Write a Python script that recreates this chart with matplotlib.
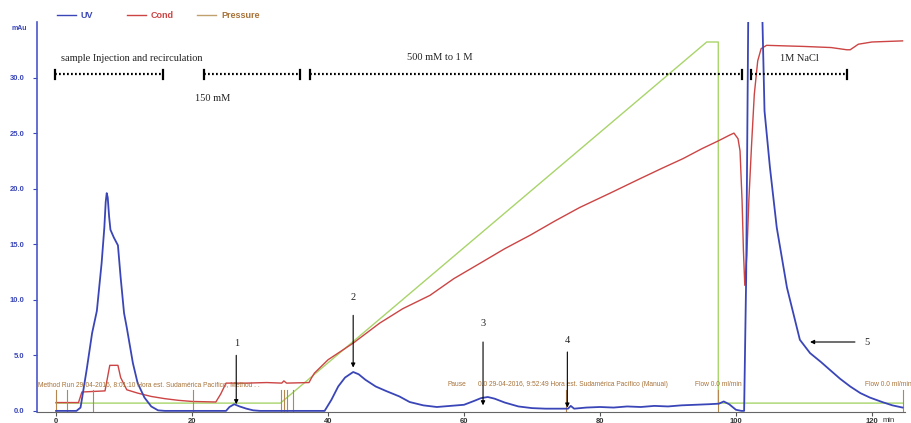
import numpy as np
import matplotlib.pyplot as plt

# UV absorbance trace (mAu)
uv_time = [0, 3.0, 3.6, 4.5, 5.3, 6.0, 6.7, 7.1, 7.3, 7.45, 7.6, 7.8, 8.0, 8.5, 9.1, 9.5, 10.0,
           10.4, 11.3, 12.0, 13.0, 14.0, 15.0, 16.0, 25.0, 25.5, 26.2, 27.0, 28.0,
           29.0, 30.0, 39.5, 40.5, 41.5, 42.5, 43.7, 44.5, 45.5, 47.0, 48.5, 50.5,
           52.0, 54.0, 56.0, 58.0, 60.0, 61.5, 62.5, 63.5, 64.5, 66.0, 68.0, 70.0,
           72.0, 74.0, 75.3, 75.7, 76.2, 78.0, 80.0, 82.0, 84.0, 86.0, 88.0, 90.0,
           92.0, 94.0, 96.0, 97.5, 98.2, 99.0, 100.0, 100.8, 101.2, 101.5, 101.8,
           102.2, 103.5, 103.9, 104.2, 105.0, 106.0, 107.5, 109.4, 110.9, 112.5,
           113.8, 115.3, 116.8, 118.3, 119.7, 121.5, 123.0, 124.5]
uv_value = [0, 0, 0.3, 3.7, 7.0, 9.0, 13.3, 16.5, 18.8, 19.6, 19.2, 17.5, 16.3, 15.6, 14.9, 12.0, 8.8,
            7.5, 4.3, 2.5, 1.2, 0.4, 0.05, 0, 0, 0.35, 0.6, 0.4, 0.2,
            0.05, 0, 0, 1.0, 2.2, 3.0, 3.5, 3.3, 2.8, 2.2, 1.8, 1.3,
            0.8, 0.5, 0.35, 0.45, 0.55, 0.9, 1.15, 1.25, 1.1, 0.75, 0.4, 0.25,
            0.2, 0.2, 0.2, 0.45, 0.2, 0.3, 0.35, 0.3, 0.4, 0.35, 0.45, 0.4,
            0.5, 0.55, 0.6, 0.65, 0.85, 0.6, 0.1, 0.0, 0.0, 12.0, 35.0,
            45.0, 45.0, 35.0, 27.0, 21.9, 16.5, 11.1, 6.4, 5.2, 4.4,
            3.7, 2.9, 2.2, 1.6, 1.2, 0.8, 0.5, 0.3]

# conductivity trace, drawn on the same scale
cond_time = [0, 3.3, 3.8, 7.2, 7.9, 9.1, 9.5, 10.4, 12.0, 14.0, 16.0, 18.0, 20.0, 23.5,
             24.2, 25.0, 28.0, 31.0, 33.2, 33.5, 33.9, 37.2, 37.6, 38.0, 40.0, 43.7,
             47.6, 51.0, 55.0, 58.5, 62.4, 66.0, 69.7, 73.4, 77.0, 81.5, 85.9, 89.0,
             92.2, 95.0, 97.4, 99.0, 99.7, 100.3, 100.6, 100.9, 101.1, 101.3, 101.6,
             101.9, 102.3, 102.7, 103.2, 103.7, 104.5, 110.0, 114.0, 116.3, 116.8,
             118.0, 120.0, 124.5]
cond_value = [0.75, 0.75, 1.7, 1.8, 4.1, 4.1, 3.0, 1.9, 1.6, 1.3, 1.1, 0.95, 0.85, 0.8,
              1.5, 2.5, 2.5, 2.55, 2.5, 2.7, 2.5, 2.55, 3.0, 3.4, 4.6, 6.1,
              7.9, 9.2, 10.4, 11.9, 13.3, 14.6, 15.8, 17.1, 18.3, 19.6, 20.9, 21.8,
              22.7, 23.6, 24.3, 24.8, 25.0, 24.5, 23.4, 18.9, 14.4, 11.3, 14.0,
              19.0, 24.0, 28.5, 31.5, 32.6, 32.9, 32.8, 32.7, 32.5, 32.5,
              33.0, 33.2, 33.3]

# gradient (%B) program
grad_time = [0, 33.0, 95.7, 97.4, 97.4, 124.5]
grad_value = [0.7, 0.7, 33.2, 33.2, 0.7, 0.7]

# logbook events
event_time = [0, 1.6, 5.5, 20.2, 33.1, 33.5, 34.0, 34.8, 75.0, 97.4, 124.6]
event_text = [(-2.7, "Method Run 29-04-2016, 8:01:10 Hora est. Sudamérica Pacífico, Method . .", 'left'),
              (57.5, "Pause", 'left'),
              (62.1, "0.0 29-04-2016, 9:52:49 Hora est. Sudamérica Pacífico (Manual)", 'left'),
              (94.0, "Flow 0.0 ml/min", 'left'),
              (125.8, "Flow 0.0 ml/min", 'right')]

# buffer steps: (start, end, label, label x, label y)
steps = [(-0.1, 15.7, "sample Injection and recirculation", 11.2, 31.7),
         (21.8, 35.9, "150 mM", 23.0, 28.1),
         (37.4, 100.9, "500 mM to 1 M", 56.5, 31.8),
         (102.2, 116.4, "1M NaCl", 109.4, 31.7)]
step_y = 30.3

# numbered peaks: label, label xy, arrow tail, arrow head
peaks = [("1", (26.5, 6.1), (26.5, 5.0), (26.5, 0.6)),
         ("2", (43.7, 10.2), (43.7, 8.6), (43.7, 3.9)),
         ("3", (62.8, 7.9), (62.8, 6.2), (62.8, 0.5)),
         ("4", (75.2, 6.3), (75.2, 5.3), (75.2, 0.3)),
         ("5", (119.3, 6.2), (117.5, 6.2), (110.9, 6.2))]

UV_C = '#3a46b8'
COND_C = '#cc4444'
GRAD_C = '#a9d46a'
EVT_C = '#b5874e'
EVT_TXT = '#a8733a'

fig = plt.figure(figsize=(9.12, 4.23), dpi=100)
ax = fig.add_axes([0.0406, 0.026, 0.952, 0.922])

ax.plot(grad_time, grad_value, color=GRAD_C, lw=1.0)
ax.plot(cond_time, cond_value, color=COND_C, lw=1.0)
for t in event_time:
    ax.plot([t, t], [0, 1.9], color=EVT_C, lw=0.8)
ax.plot(uv_time, uv_value, color=UV_C, lw=1.3)

for x, s, ha in event_text:
    ax.text(x, 2.4, s, fontsize=4.8, color=EVT_TXT, family='Liberation Sans',
            va='center', ha=ha, clip_on=False)

for x0, x1, label, lx, ly in steps:
    ax.plot([x0, x1], [step_y, step_y], color='black', lw=1.6,
            linestyle=(0, (0.8, 1.0)))
    for xc in (x0, x1):
        ax.plot([xc, xc], [step_y - 0.4, step_y + 0.4], color='black', lw=1.6)
    ax.text(lx, ly, label, fontsize=7.5, family='Liberation Serif',
            ha='center', va='center', color='#222222')

for label, (lx, ly), tail, head in peaks:
    ax.text(lx, ly, label, fontsize=7.5, family='Liberation Serif',
            ha='center', va='center', color='#222222')
    ax.annotate('', xy=head, xytext=tail,
                arrowprops=dict(arrowstyle='-|>', color='black', lw=0.8,
                                mutation_scale=6, shrinkA=0, shrinkB=0))

ax.set_xlim(-2.8, 124.9)
ax.set_ylim(-0.1, 35)
ax.set_xticks([0, 20, 40, 60, 80, 100, 120])
ax.set_yticks([0, 5, 10, 15, 20, 25, 30])
ax.set_yticklabels([f"{v:.1f}" for v in range(0, 35, 5)])

for side in ('top', 'right'):
    ax.spines[side].set_visible(False)
ax.spines['left'].set_color('#4a58c8')
ax.spines['left'].set_linewidth(1.2)
ax.spines['bottom'].set_color('#666666')
ax.tick_params(axis='y', colors='#3a46b8', labelsize=5.5, length=3, width=0.8, pad=6)
ax.tick_params(axis='x', colors='#555555', labelsize=5.5, length=3, width=0.8, pad=1)
for lab in ax.get_yticklabels() + ax.get_xticklabels():
    lab.set_family('Liberation Sans')
    lab.set_fontweight('bold')
ax.tick_params(axis='x', labelcolor='#333333')

fig.text(12 / 912, 1 - 29 / 423, "mAu", fontsize=5, color=UV_C, fontweight='bold',
         family='Liberation Sans', va='center')
fig.text(883 / 912, 1 - 420 / 423, "min", fontsize=5.5, color='#333333',
         family='Liberation Sans', va='center')

# legend across the top
legend_items = [(57, "UV", UV_C, UV_C), (127, "Cond", COND_C, COND_C),
                (197, "Pressure", '#c0a06e', EVT_TXT)]
for px, name, lc, tc in legend_items:
    y = 1 - 15 / 423
    fig.add_artist(plt.Line2D([px / 912, (px + 19) / 912], [y, y], color=lc, lw=1.0))
    fig.text((px + 24) / 912, y, name, fontsize=6.5, color=tc, fontweight='bold',
             family='Liberation Sans', va='center')

fig.savefig('out.png', dpi=100)
